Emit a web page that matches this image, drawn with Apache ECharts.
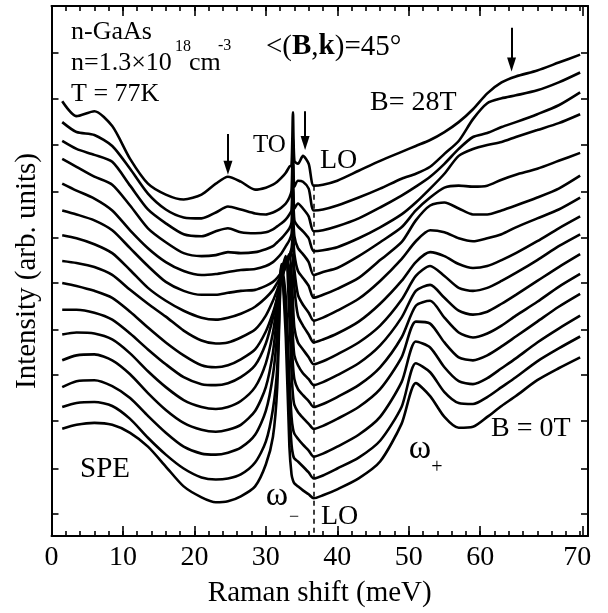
<!DOCTYPE html>
<html>
<head>
<meta charset="utf-8">
<script src="https://cdn.jsdelivr.net/npm/echarts@6/dist/echarts.min.js"></script>
<style>html,body{margin:0;padding:0;background:#fff}#chart{width:608px;height:613px}</style>
</head>
<body>
<div id="chart"></div>
<script>
// Raman shift sample positions (meV)
const ramanShift = [1.5, 3.5, 6, 8.5, 11, 13.5, 16, 18.5, 21, 23, 24.7, 26.5, 28.5, 30, 31, 31.6, 32.2, 32.8, 33.3, 33.6, 33.8, 34.0, 34.5, 35.2, 36, 36.7, 38, 40, 43, 46, 49, 51, 53, 55, 57, 59, 61, 63, 65, 68, 71, 74];

// Spectra (offset intensity, arb. units), top = 28T ... bottom = 0T
const spectrumB28 = [438, 423, 428, 413, 380, 355, 344, 339, 344, 355, 362, 357, 349, 351, 354, 357, 361, 366, 372, 374, 427, 378, 375, 383, 375, 353, 354, 358, 368, 378, 387, 393, 399, 407, 417, 430, 446, 457, 463, 469, 477, 485];
const spectrumB26 = [417, 407, 404, 393, 370, 345, 329, 321, 320, 326, 332, 329, 325, 324, 326, 328, 331, 335, 341, 348, 400, 352, 358, 357, 350, 328, 329, 333, 341, 350, 360, 365, 372, 385, 398, 420, 436, 441, 444, 449, 457, 467];
const spectrumB24 = [398, 390, 384, 377, 353, 329, 315, 304, 302, 307, 310, 306, 305, 306, 309, 312, 315, 319, 324, 328, 375, 330, 335, 330, 322, 307, 308, 312, 320, 331, 343, 352, 362, 375, 390, 402, 406, 412, 417, 425, 434, 447];
const spectrumB22 = [380, 372, 362, 354, 333, 310, 296, 285, 282, 283, 286, 285, 286, 289, 292, 296, 300, 305, 310, 316, 350, 318, 312, 307, 300, 287, 288, 291, 300, 311, 324, 336, 350, 365, 383, 390, 394, 397, 402, 409, 416, 425];
const spectrumB20 = [355, 348, 340, 328, 308, 290, 276, 267, 263, 264, 266, 268, 269, 272, 276, 280, 285, 292, 298, 304, 325, 302, 290, 284, 276, 263, 266, 270, 282, 296, 311, 328, 341, 351, 353, 352, 353, 359, 364, 370, 378, 386];
const spectrumB18 = [328, 324, 318, 308, 290, 272, 256, 247, 243, 243, 245, 247, 248, 252, 256, 260, 266, 274, 282, 290, 304, 284, 267, 260, 252, 240, 243, 249, 260, 278, 296, 318, 333, 336, 330, 324, 324, 328, 333, 341, 350, 363];
const spectrumB16 = [303, 300, 294, 285, 268, 250, 237, 227, 220, 218, 220, 224, 231, 240, 248, 255, 263, 272, 282, 288, 290, 268, 243, 233, 225, 217, 220, 227, 239, 257, 279, 297, 308, 306, 300, 297, 300, 304, 311, 320, 329, 341];
const spectrumB14 = [277, 275, 271, 263, 248, 234, 221, 207, 197, 194, 195, 200, 208, 222, 237, 248, 260, 272, 282, 284, 278, 250, 222, 212, 203, 195, 198, 204, 216, 234, 257, 276, 286, 282, 274, 270, 272, 278, 285, 297, 310, 322];
const spectrumB12 = [255, 252, 247, 240, 226, 210, 195, 182, 172, 170, 172, 178, 188, 206, 225, 240, 258, 275, 284, 265, 235, 210, 195, 188, 180, 173, 176, 183, 195, 212, 238, 262, 272, 262, 250, 247, 250, 257, 265, 278, 292, 304];
const spectrumB10 = [228, 228, 225, 218, 204, 188, 173, 160, 153, 152, 154, 160, 172, 194, 220, 240, 262, 280, 270, 230, 200, 182, 172, 164, 158, 152, 155, 162, 174, 192, 220, 247, 253, 240, 227, 223, 226, 234, 243, 257, 271, 284];
const spectrumB8 = [203, 205, 204, 198, 184, 166, 150, 137, 130, 128, 130, 136, 150, 174, 205, 235, 265, 282, 250, 200, 172, 158, 148, 142, 136, 130, 133, 140, 152, 170, 200, 232, 237, 220, 205, 200, 204, 212, 222, 236, 251, 264];
const spectrumB6 = [177, 182, 183, 177, 163, 144, 127, 114, 107, 105, 107, 112, 126, 150, 185, 225, 270, 278, 220, 165, 142, 132, 125, 119, 113, 108, 111, 118, 130, 148, 180, 216, 214, 195, 180, 177, 182, 191, 201, 216, 231, 244];
const spectrumB4 = [150, 156, 157, 151, 139, 121, 104, 90, 83, 82, 84, 89, 102, 126, 162, 205, 274, 240, 160, 120, 108, 103, 98, 92, 86, 80, 83, 90, 102, 120, 155, 196, 190, 170, 156, 153, 159, 169, 179, 195, 209, 222];
const spectrumB2 = [130, 134, 135, 131, 118, 99, 82, 68, 59, 57, 58, 62, 74, 95, 128, 170, 270, 220, 130, 92, 82, 78, 75, 70, 64, 58, 61, 68, 79, 96, 130, 174, 165, 145, 134, 133, 140, 150, 160, 176, 189, 201];
const spectrumB0 = [108, 112, 114, 112, 104, 90, 70, 50, 39, 34, 35, 40, 50, 72, 100, 150, 272, 200, 90, 62, 56, 53, 50, 46, 42, 38, 41, 47, 58, 75, 113, 154, 141, 120, 109, 110, 120, 131, 141, 157, 169, 180];

const spectra = [spectrumB28, spectrumB26, spectrumB24, spectrumB22, spectrumB20, spectrumB18, spectrumB16,
  spectrumB14, spectrumB12, spectrumB10, spectrumB8, spectrumB6, spectrumB4, spectrumB2, spectrumB0];
const fieldNames = ['28T','26T','24T','22T','20T','18T','16T','14T','12T','10T','8T','6T','4T','2T','0T'];

// Tick labels / positions
const xTickLabelValues = [0, 10, 20, 30, 40, 50, 60, 73.6];
const xTickLabels = ['0', '10', '20', '30', '40', '50', '60', '70'];
const xMajorTickValues = [0, 10, 20, 30, 40, 50, 60, 74.4];
const yTickValues = [22, 68, 116, 162, 208, 255, 301, 347, 394, 441, 487];

// Annotation positions (data coordinates): [x, tail, head]
const loPhonon = 36.7;
const arrowMarks = [[24.7, 405, 371], [35.5, 428, 396], [64.4, 512, 475]];

const FONT = 'Liberation Serif, Times New Roman, serif';
const X_MAX = 75.1, Y_MAX = 534;

const chart = echarts.init(document.getElementById('chart'), null, {renderer: 'canvas'});

const baseX = {type: 'value', min: 0, max: X_MAX, splitLine: {show: false}};
const baseY = {type: 'value', min: 0, max: Y_MAX, splitLine: {show: false}};
const tickStyle = {color: '#000', width: 1.6};

const series = spectra.map((arr, k) => ({
  name: fieldNames[k],
  type: 'line',
  xAxisIndex: 0, yAxisIndex: 0,
  data: ramanShift.map((x, i) => [x, arr[i]]),
  showSymbol: false,
  smooth: 0.25,
  lineStyle: {color: '#000', width: 2.6},
  silent: true,
  z: 3
}));

series.push({
  type: 'line', xAxisIndex: 0, yAxisIndex: 0, data: [], silent: true,
  markLine: {
    silent: true, symbol: ['none', 'none'], label: {show: false},
    lineStyle: {color: '#000', width: 1.5, type: [5, 4]},
    data: [[{coord: [loPhonon, 353]}, {coord: [loPhonon, 0]}]]
  }
});
series.push({
  type: 'line', xAxisIndex: 0, yAxisIndex: 0, data: [], silent: true,
  markLine: {
    silent: true, symbol: ['none', 'triangle'], symbolSize: 12, label: {show: false},
    lineStyle: {color: '#000', width: 2, type: 'solid'},
    itemStyle: {color: '#000'},
    data: arrowMarks.map(a => [
      {coord: [a[0], a[1]], symbol: 'none'},
      {coord: [a[0], a[2]], symbol: 'triangle', symbolSize: [9, 14], itemStyle: {color: '#000'}}
    ])
  }
});

function txt(x, y, text, size, extra) {
  return {
    type: 'text', x: x, y: y, silent: true, z: 10,
    style: Object.assign({text: text, fontSize: size, fontFamily: FONT, fill: '#000', align: 'left', verticalAlign: 'middle'}, extra || {})
  };
}

const option = {
  animation: false,
  backgroundColor: '#fff',
  grid: {left: 51.5, right: 20, top: 6, bottom: 73, containLabel: false},
  xAxis: [
    Object.assign({}, baseX, {
      position: 'bottom',
      axisLine: {show: true, onZero: false, lineStyle: {color: '#000', width: 2}},
      axisTick: {show: true, inside: true, length: 10, customValues: xMajorTickValues, lineStyle: tickStyle},
      axisLabel: {show: true, customValues: xTickLabelValues, margin: 8, color: '#000', fontFamily: FONT, fontSize: 28,
        formatter: v => { const i = xTickLabelValues.indexOf(v); return i >= 0 ? xTickLabels[i] : ''; }},
      name: 'Raman shift (meV)', nameLocation: 'middle', nameGap: 43,
      nameTextStyle: {color: '#000', fontFamily: FONT, fontSize: 29}
    }),
    Object.assign({}, baseX, {
      position: 'bottom', interval: 2,
      axisLine: {show: false, onZero: false},
      axisTick: {show: true, inside: true, length: 5, lineStyle: tickStyle},
      axisLabel: {show: false}
    }),
    Object.assign({}, baseX, {
      position: 'top',
      axisLine: {show: true, onZero: false, lineStyle: {color: '#000', width: 2}},
      axisTick: {show: true, inside: true, length: 10, customValues: xMajorTickValues, lineStyle: tickStyle},
      axisLabel: {show: false}
    }),
    Object.assign({}, baseX, {
      position: 'top', interval: 2,
      axisLine: {show: false, onZero: false},
      axisTick: {show: true, inside: true, length: 5, lineStyle: tickStyle},
      axisLabel: {show: false}
    })
  ],
  yAxis: [
    Object.assign({}, baseY, {
      position: 'left',
      axisLine: {show: true, onZero: false, lineStyle: {color: '#000', width: 2}},
      axisTick: {show: true, inside: true, length: 7, customValues: yTickValues, lineStyle: tickStyle},
      axisLabel: {show: false},
      name: 'Intensity (arb. units)', nameLocation: 'middle', nameGap: 10,
      nameTextStyle: {color: '#000', fontFamily: FONT, fontSize: 29}
    }),
    Object.assign({}, baseY, {
      position: 'right',
      axisLine: {show: true, onZero: false, lineStyle: {color: '#000', width: 2}},
      axisTick: {show: true, inside: true, length: 7, customValues: yTickValues, lineStyle: tickStyle},
      axisLabel: {show: false}
    })
  ],
  series: series,
  graphic: [
    txt(71, 32, 'n-GaAs', 26),
    txt(71, 63, 'n=1.3×10', 26),
    txt(175, 47, '18', 16),
    txt(189, 63, 'cm', 26),
    txt(218, 46, '-3', 16),
    txt(71, 94, 'T = 77K', 26),
    txt(266, 47, '<({b|B},{b|k})=45°', 29, {rich: {b: {fontWeight: 'bold', fontSize: 29, fontFamily: FONT, fill: '#000'}}}),
    txt(370, 103, 'B= 28T', 28),
    txt(253, 145, 'TO', 25),
    txt(320, 161, 'LO', 28),
    txt(80, 469, 'SPE', 29),
    txt(277, 496, 'ω', 34, {align: 'center'}),
    txt(294, 517, '−', 18, {align: 'center'}),
    txt(420, 449, 'ω', 34, {align: 'center'}),
    txt(437, 468, '+', 20, {align: 'center'}),
    txt(321, 517, 'LO', 28),
    txt(491, 429, 'B = 0T', 28)
  ]
};
chart.setOption(option);
</script>
</body>
</html>
